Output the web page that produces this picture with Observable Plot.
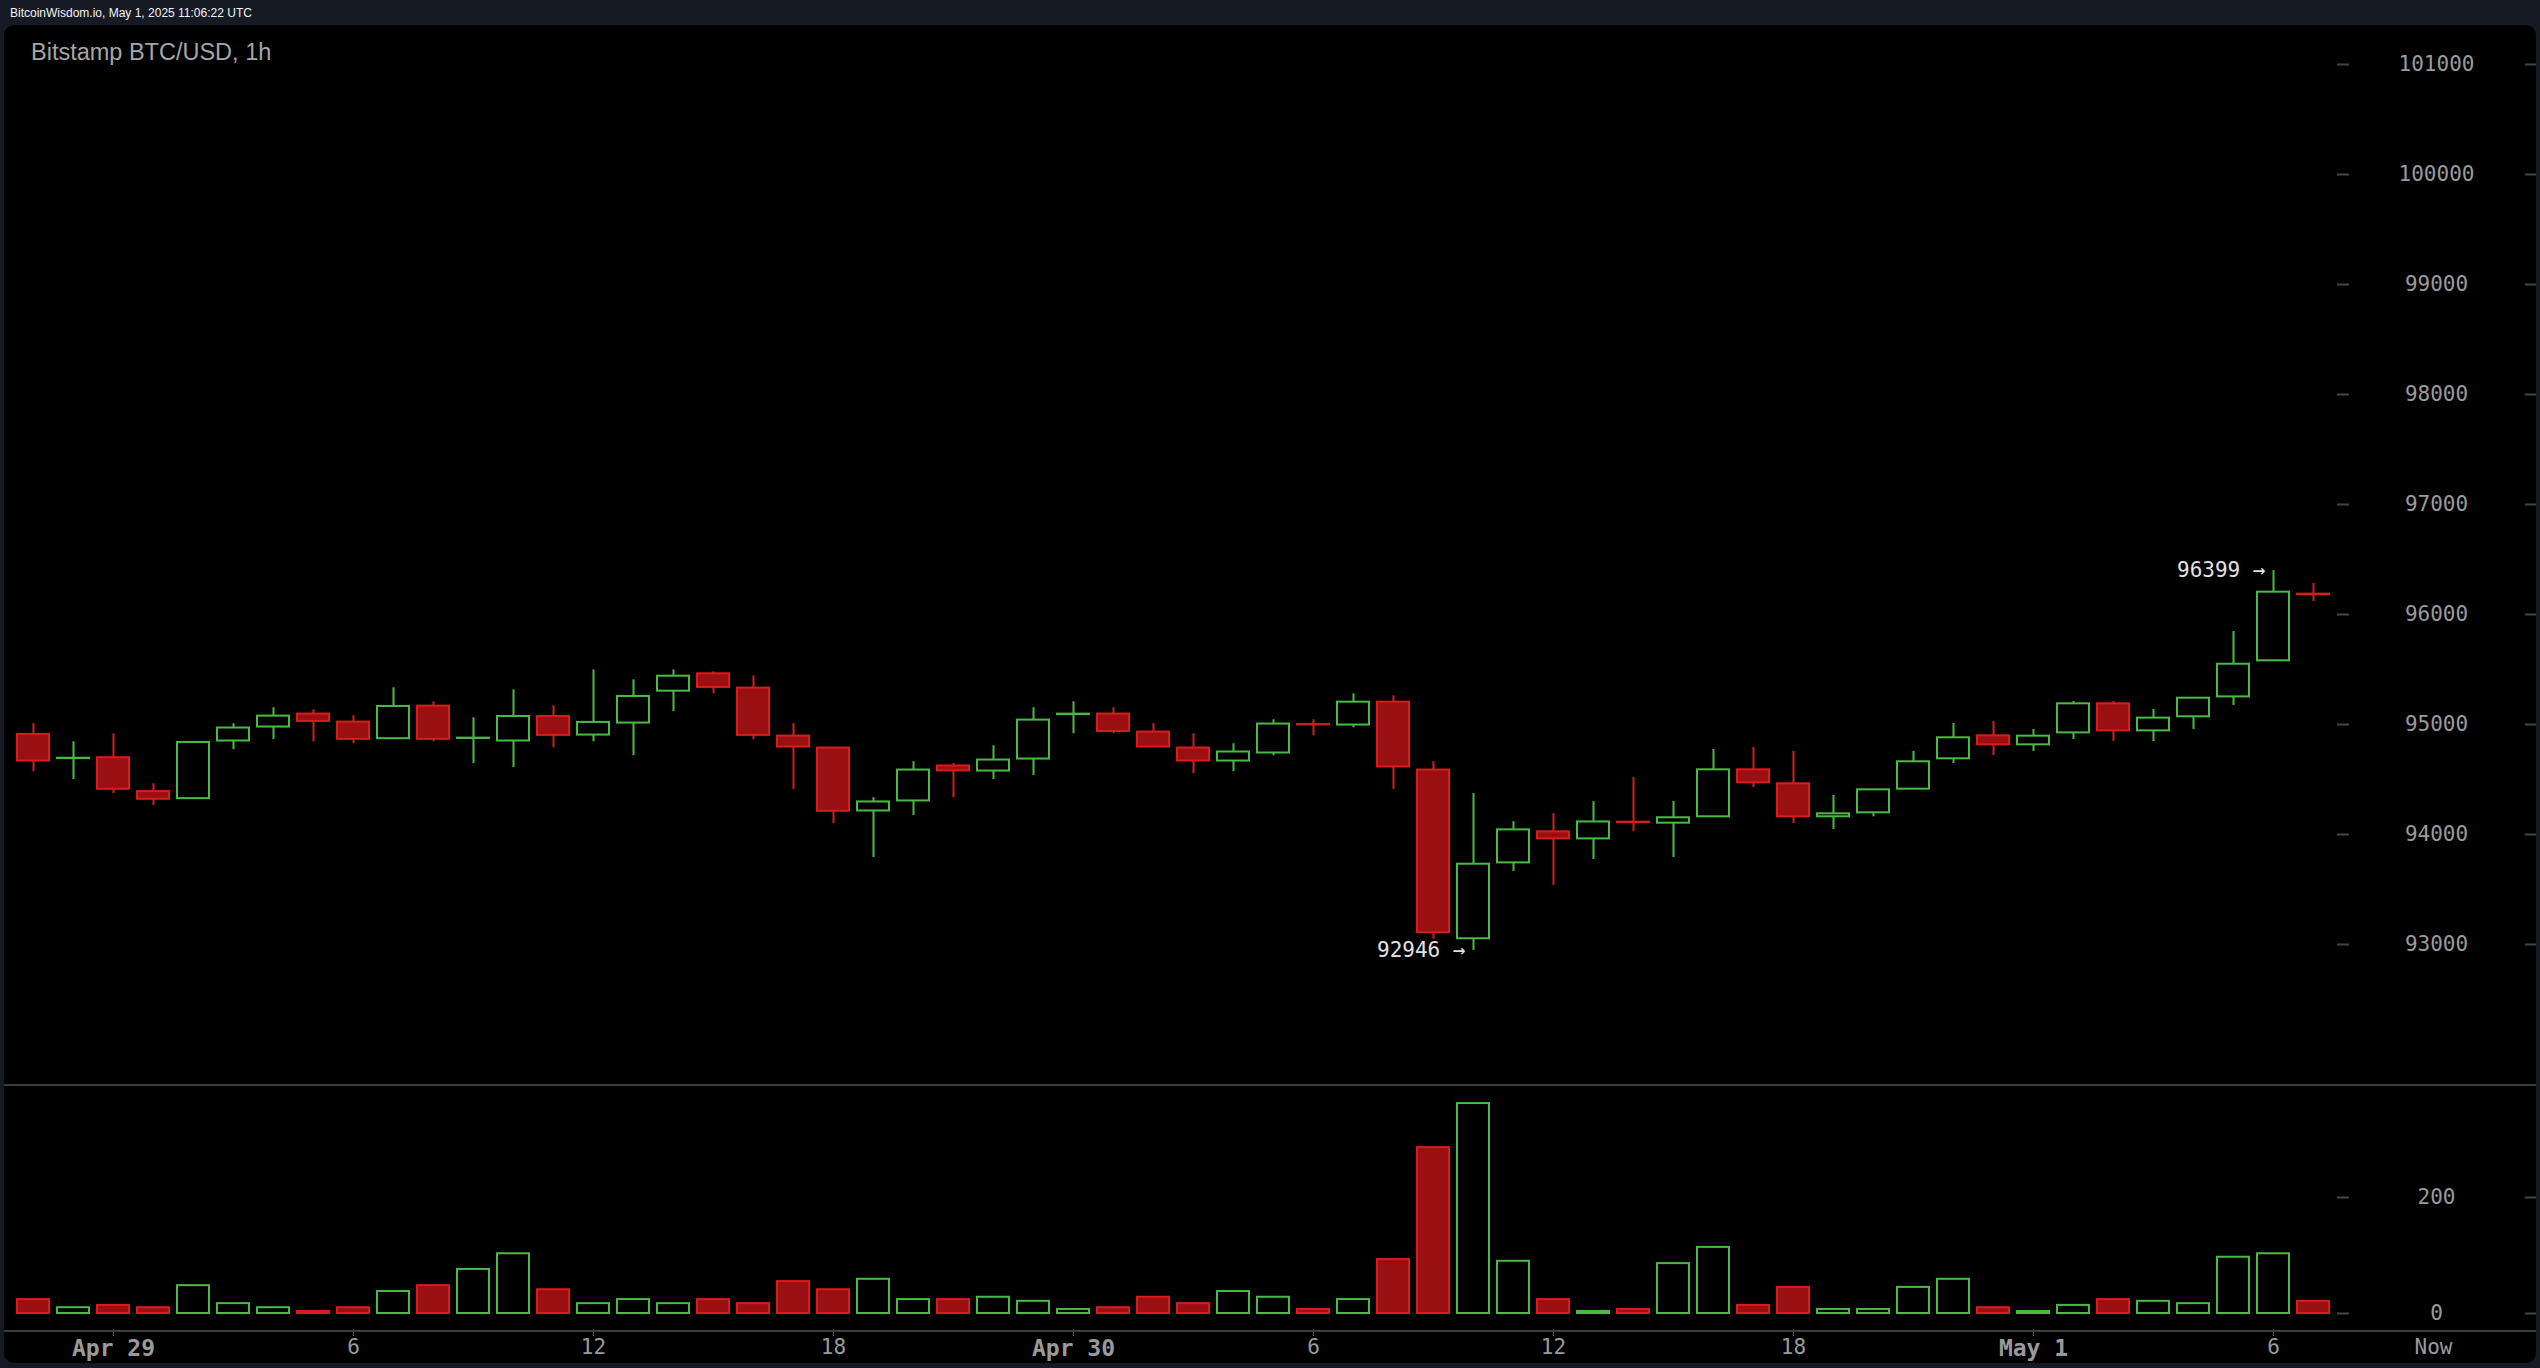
<!DOCTYPE html>
<html><head><meta charset="utf-8">
<script src="https://cdn.jsdelivr.net/npm/d3@7"></script>
<script src="https://cdn.jsdelivr.net/npm/@observablehq/plot@0.6"></script>
<style>
html,body{margin:0;padding:0;background:#161a25;width:2540px;height:1368px;overflow:hidden;}
#status{position:absolute;left:10px;top:7px;font:12px/12px "Liberation Sans",Arial,sans-serif;color:#f2f2f2;white-space:nowrap}
#panel{position:absolute;left:4px;top:25px;width:2532px;height:1338px;background:#000;border-radius:10px;overflow:hidden}
#title{position:absolute;left:27px;top:16px;font:23.5px/23.5px "Liberation Sans",Arial,sans-serif;color:#a6a6a6;white-space:nowrap}
#price{position:absolute;left:0;top:0}
#volume{position:absolute;left:0;top:1060px}
.hline{position:absolute;left:0;width:2532px;height:2px;background:#3c3c3c}
</style></head><body>
<div id="status">BitcoinWisdom.io, May 1, 2025 11:06:22 UTC</div>
<div id="panel">
  <div id="price"></div>
  <div id="volume"></div>
  <div class="hline" style="top:1059px"></div>
  <div class="hline" style="top:1305px"></div>
  <div id="title">Bitstamp BTC/USD, 1h</div>
</div>
<script>
// ---- data (hourly candles, Bitstamp BTC/USD) ----
const startTime = "2025-04-28T22:00:00Z";
const nowTime = "2025-05-01T10:00:00Z";
const opens  = [94910,94690,94698,94390,94326,94850,94977,95095,95022,94871,95167,94873,94850,95073,94904,95013,95303,95461,95331,94895,
                94786,94214,94305,94623,94577,94686,95090,95095,94931,94786,94668,94741,94999,94995,95203,94586,93052,93742,94024,93960,
                94112,94103,94161,94588,94461,94161,94197,94412,94688,94897,94815,94924,95188,94942,95070,95251,95579,96185];
const highs  = [95007,94843,94916,94462,94840,95007,95152,95134,95079,95334,95207,95061,95315,95170,95497,95406,95497,95479,95442,95007,
                94790,94335,94662,94644,94807,95152,95207,95152,95007,94916,94825,95043,95043,95279,95261,94662,94372,94117,94190,94299,
                94518,94300,94773,94791,94755,94355,94406,94755,95009,95027,94955,95209,95209,95136,95239,95845,96399,96282];
const lows   = [94571,94499,94372,94263,94323,94771,94862,94843,94825,94865,94843,94644,94608,94789,94843,94716,95116,95279,94862,94408,
                94099,93791,94172,94335,94499,94535,94916,94916,94789,94553,94571,94716,94898,94971,94408,93047,92946,93664,93537,93773,
                94027,93791,94161,94427,94100,94046,94161,94412,94645,94718,94755,94864,94845,94845,94955,95173,95579,96118];
const closes = [94668,94693,94411,94320,94837,94968,95076,95028,94865,95164,94865,94876,95073,94901,95019,95255,95439,95337,94901,94795,
                94211,94296,94586,94578,94677,95040,95094,94937,94795,94668,94750,95004,94996,95203,94614,93107,93730,94042,93960,94114,
                94108,94152,94588,94470,94161,94188,94406,94661,94879,94815,94894,95188,94942,95058,95239,95548,96203,96180];
const volumes = [24,10,14,10,48,17,10,3.5,10,38,48,76,103,41,17,24,17,24,17,55,
                 41,59,24,24,28,21,7,10,28,17,38,28,7,24,93,286,362,90,24,3.5,
                 7,86,114,14,45,7,7,45,59,10,3.5,14,24,21,17,97,103,21];
const dayTickTimes  = ["2025-04-29T00:00:00Z","2025-04-30T00:00:00Z","2025-05-01T00:00:00Z"];
const dayTickLabels = ["Apr 29","Apr 30","May 1"];
const hourTickTimes = ["2025-04-29T06:00:00Z","2025-04-29T12:00:00Z","2025-04-29T18:00:00Z",
                       "2025-04-30T06:00:00Z","2025-04-30T12:00:00Z","2025-04-30T18:00:00Z",
                       "2025-05-01T06:00:00Z"];
const hourTickLabels = ["6","12","18","6","12","18","6"];
const priceTicks = [93000,94000,95000,96000,97000,98000,99000,100000,101000];
const volumeTicks = [0,200];
const nowLabel = "Now";

// ---- styles ----
const GREEN = "#48bb44", RED = "#d91c1c", RED_FILL = "#9a1012";
const MONO = "DejaVu Sans Mono", LABEL = "#9a9a9a", TICK = "#444";

const t0 = new Date(startTime), tNow = new Date(nowTime);
const candles = opens.map((o, i) => ({
  date: d3.utcHour.offset(t0, i), open: o, high: highs[i], low: lows[i], close: closes[i],
  volume: volumes[i], up: closes[i] >= o
}));
const ups = candles.filter(d => d.up), downs = candles.filter(d => !d.up);
const halfW = 24 * 60 * 1000;
const bx1 = d => new Date(+d.date - halfW), bx2 = d => new Date(+d.date + halfW);
const maxC = candles.reduce((a, b) => b.high > a.high ? b : a);
const minC = candles.reduce((a, b) => b.low < a.low ? b : a);

const xScale = {type: "utc", domain: [t0, tNow], range: [29, 2429], axis: null};
const common = {width: 2532, marginLeft: 0, marginRight: 200, marginTop: 0,
  style: {background: "transparent", overflow: "visible", color: LABEL}};

const price = Plot.plot({
  ...common, height: 1062, marginBottom: 0,
  x: xScale,
  y: {domain: [92000, 101000], range: [1029, 39], axis: null},
  marks: [
    Plot.ruleX(ups, {x: "date", y1: "low", y2: "high", stroke: GREEN, strokeWidth: 2}),
    Plot.ruleX(downs, {x: "date", y1: "low", y2: "high", stroke: RED, strokeWidth: 2}),
    Plot.rect(ups, {x1: bx1, x2: bx2, y1: "open", y2: "close", fill: "#000", stroke: GREEN, strokeWidth: 2}),
    Plot.rect(downs, {x1: bx1, x2: bx2, y1: "open", y2: "close", fill: RED_FILL, stroke: RED, strokeWidth: 2}),
    Plot.axisY(priceTicks, {anchor: "right", label: null, tickSize: 12, tickPadding: 88, textAnchor: "middle",
      tickFormat: d => String(d), fontSize: 21, fontFamily: MONO, fill: LABEL, stroke: TICK, strokeWidth: 2}),
    Plot.axisY(priceTicks, {anchor: "right", label: null, tickSize: 12, dx: 188, tickFormat: () => "", stroke: TICK, strokeWidth: 2}),
    Plot.text([maxC], {x: "date", y: "high", text: d => `${d.high} →`, textAnchor: "end", dx: -8,
      fill: "#e2e2e2", fontSize: 21, fontFamily: MONO}),
    Plot.text([minC], {x: "date", y: "low", text: d => `${d.low} →`, textAnchor: "end", dx: -8,
      fill: "#e2e2e2", fontSize: 21, fontFamily: MONO})
  ]
});
document.getElementById("price").append(price);

const dayMap = new Map(dayTickTimes.map((t, i) => [+new Date(t), dayTickLabels[i]]));
const hourMap = new Map(hourTickTimes.map((t, i) => [+new Date(t), hourTickLabels[i]]));

const volume = Plot.plot({
  ...common, height: 278, marginBottom: 34,
  x: xScale,
  y: {domain: [0, 380], range: [228, 7.6], axis: null},
  marks: [
    Plot.rect(ups, {x1: bx1, x2: bx2, y1: 0, y2: "volume", fill: "#000", stroke: GREEN, strokeWidth: 2}),
    Plot.rect(downs, {x1: bx1, x2: bx2, y1: 0, y2: "volume", fill: RED_FILL, stroke: RED, strokeWidth: 2}),
    Plot.axisY(volumeTicks, {anchor: "right", label: null, tickSize: 12, tickPadding: 88, textAnchor: "middle",
      tickFormat: d => String(d), fontSize: 21, fontFamily: MONO, fill: LABEL, stroke: TICK, strokeWidth: 2}),
    Plot.axisY(volumeTicks, {anchor: "right", label: null, tickSize: 12, dx: 188, tickFormat: () => "", stroke: TICK, strokeWidth: 2}),
    Plot.axisX(dayTickTimes.map(t => new Date(t)), {anchor: "bottom", label: null, tickSize: 7, tickPadding: 3,
      tickFormat: d => dayMap.get(+d), fontSize: 23, fontWeight: "bold", fontFamily: MONO, fill: LABEL, stroke: "#555"}),
    Plot.axisX(hourTickTimes.map(t => new Date(t)), {anchor: "bottom", label: null, tickSize: 7, tickPadding: 3,
      tickFormat: d => hourMap.get(+d), fontSize: 21, fontFamily: MONO, fill: LABEL, stroke: "#555"}),
    Plot.axisX([tNow], {anchor: "bottom", label: null, tickSize: 0, tickPadding: 10,
      tickFormat: () => nowLabel, fontSize: 21, fontFamily: MONO, fill: LABEL})
  ]
});
document.getElementById("volume").append(volume);
</script>
</body></html>
